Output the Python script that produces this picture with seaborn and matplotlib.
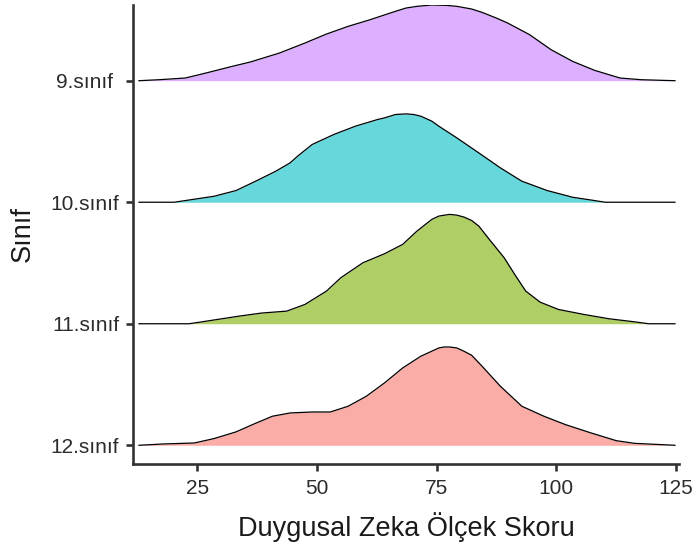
import numpy as np
import pandas as pd
import matplotlib
matplotlib.use("Agg")
import matplotlib.pyplot as plt
import seaborn as sns

# ---- data (density heights in units of ridge spacing) ----
classes = ["12.sınıf", "11.sınıf", "10.sınıf", "9.sınıf"]
tick_labels = ["12.sınıf", "11.sınıf", "10.sınıf", "9.sınıf "]
fill_colors = ["#F8766D", "#7CAE00", "#00BFC4", "#C77CFF"]

x_12 = [12.8, 18.0, 24.4, 28.5, 33.1, 36.9, 40.7, 44.4, 49.0, 52.8, 56.5, 60.3, 64.1,
        67.9, 71.7, 73.2, 75.45, 76.6, 77.7, 79.2, 80.7, 82.3, 84.5, 88.3, 92.8, 97.4,
        101.9, 107.2, 112.5, 116.3, 124.8]
d_12 = [0.0, 0.011, 0.019, 0.055, 0.110, 0.176, 0.239, 0.266, 0.274, 0.274, 0.321,
        0.403, 0.513, 0.636, 0.733, 0.760, 0.801, 0.809, 0.809, 0.801, 0.774, 0.741,
        0.650, 0.486, 0.321, 0.239, 0.170, 0.102, 0.038, 0.016, 0.0]

x_11 = [12.8, 23.3, 27.0, 33.8, 38.4, 43.7, 47.5, 52.0, 55.0, 59.6, 64.1, 67.9, 70.9,
        74.0, 75.45, 77.7, 79.2, 80.7, 82.3, 83.8, 84.9, 86.0, 89.1, 91.3, 93.6, 96.6,
        100.4, 105.7, 111.0, 116.3, 119.3, 124.8]
d_11 = [0.0, 0.0, 0.022, 0.063, 0.088, 0.104, 0.159, 0.269, 0.379, 0.502, 0.576,
        0.653, 0.763, 0.859, 0.886, 0.900, 0.894, 0.878, 0.850, 0.804, 0.749, 0.694,
        0.543, 0.406, 0.269, 0.178, 0.118, 0.077, 0.041, 0.016, 0.0, 0.0]

x_10 = [12.8, 20.2, 22.9, 28.5, 33.1, 37.2, 41.4, 44.4, 46.0, 49.0, 53.5, 58.05, 62.6,
        64.1, 66.4, 68.6, 70.2, 71.7, 74.0, 75.45, 79.2, 83.8, 88.3, 92.8, 98.1, 103.4,
        107.6, 110.2, 124.8]
d_10 = [0.0, 0.0, 0.016, 0.049, 0.096, 0.173, 0.255, 0.324, 0.380, 0.475, 0.557,
        0.626, 0.680, 0.694, 0.722, 0.727, 0.722, 0.708, 0.667, 0.626, 0.530, 0.406,
        0.283, 0.173, 0.096, 0.041, 0.016, 0.0, 0.0]

x_9 = [12.8, 17.0, 22.5, 26.3, 32.3, 36.1, 42.2, 47.5, 52.0, 56.5, 61.1, 66.4, 68.6,
       70.9, 74.0, 77.0, 79.2, 82.3, 84.5, 87.5, 89.8, 94.4, 98.9, 103.4, 108.0, 113.3,
       117.8, 124.8]
d_9 = [0.0, 0.008, 0.022, 0.058, 0.118, 0.154, 0.228, 0.310, 0.384, 0.447, 0.502,
       0.571, 0.598, 0.612, 0.623, 0.620, 0.612, 0.590, 0.562, 0.515, 0.475, 0.379,
       0.255, 0.159, 0.085, 0.022, 0.008, 0.0]

xs = [x_12, x_11, x_10, x_9]
ds = [d_12, d_11, d_10, d_9]
x_ticks = [25, 50, 75, 100, 125]

# ---- plot ----
sns.set_theme(style="ticks")
plt.rcParams["font.family"] = ["Liberation Sans", "DejaVu Sans"]

fig = plt.figure(figsize=(6.98, 5.59), dpi=100)
ax = fig.add_axes([133 / 698, 95 / 559, 546 / 698, 459 / 559])

for i in reversed(range(len(classes))):
    base = i + 1
    df = pd.DataFrame({"score": xs[i], "y": np.array(ds[i]) + base})
    ax.fill_between(df["score"], base, df["y"], color=fill_colors[i], alpha=0.6,
                    lw=0, zorder=2 + (3 - i))
    sns.lineplot(data=df, x="score", y="y", color="black", lw=0.9, ax=ax,
                 sort=False, estimator=None, zorder=2.5 + (3 - i))

ax.set_xlim(11.6, 125.6)
ax.set_ylim(0.846, 4.623)
ax.set_xticks(x_ticks)
ax.set_xticklabels([str(t) for t in x_ticks])
ax.set_yticks([1, 2, 3, 4])
ax.set_yticklabels(tick_labels)

sns.despine(ax=ax)
for s in ["left", "bottom"]:
    ax.spines[s].set_linewidth(1.9)
    ax.spines[s].set_color("#333333")
ax.tick_params(axis="both", length=5, width=1.9, color="#333333",
               labelsize=15, labelcolor="#2b2b2b", pad=5)
ax.tick_params(axis="x", pad=6)

ax.set_xlabel("Duygusal Zeka Ölçek Skoru", fontsize=19.5, color="#1a1a1a")
ax.set_ylabel("Sınıf", fontsize=19.5, color="#1a1a1a")
ax.xaxis.set_label_coords(0.5, -0.105)
ax.yaxis.set_label_coords(-0.178, 0.5)

fig.savefig("out.png", dpi=100)
